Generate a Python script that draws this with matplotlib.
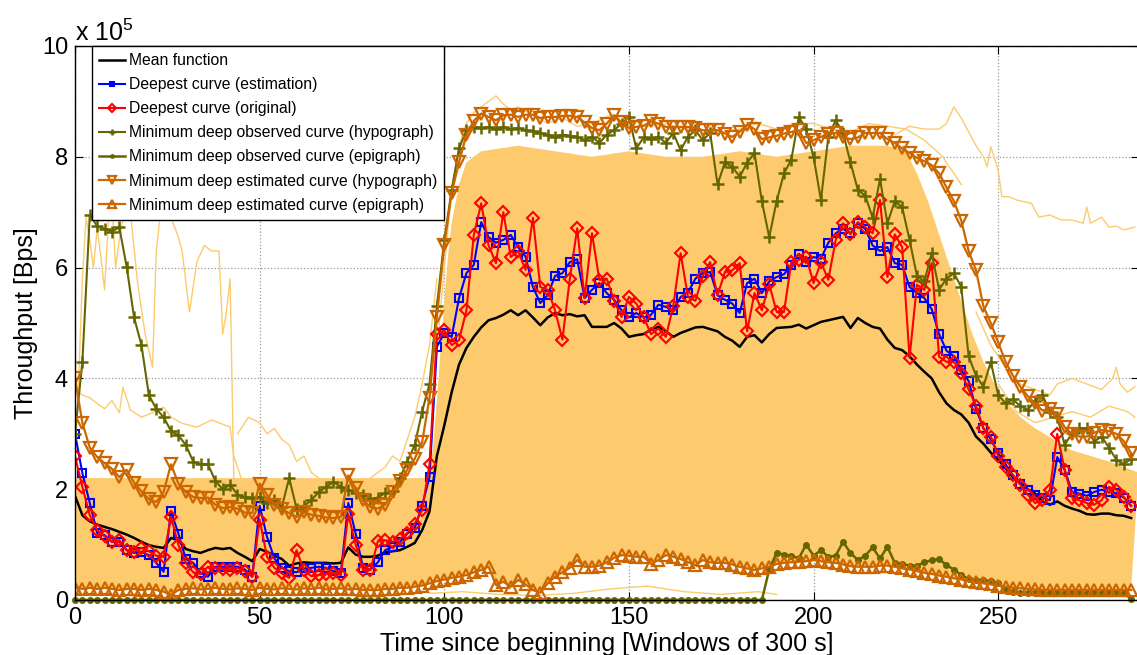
import numpy as np
import matplotlib
matplotlib.use("Agg")
import matplotlib.pyplot as plt

plt.rcParams['font.family'] = ['Liberation Sans', 'DejaVu Sans']
plt.rcParams['mathtext.fontset'] = 'custom'
plt.rcParams['mathtext.rm'] = 'Liberation Sans'

# time windows (every 2nd window), values in units of 1e5 Bps
windows = np.arange(0, 288, 2)

mean_curve = [
    1.88, 1.53, 1.42, 1.36, 1.32, 1.28, 1.23, 1.18, 1.12, 1.05,
    0.99, 0.96, 0.94, 1.12, 1.08, 0.92, 0.88, 0.85, 0.90, 0.94,
    0.92, 0.94, 0.85, 0.78, 0.70, 0.92, 0.87, 0.80, 0.74, 0.62,
    0.66, 0.68, 0.67, 0.67, 0.67, 0.66, 0.67, 0.95, 0.82, 0.78,
    0.78, 0.80, 0.86, 0.88, 0.90, 0.96, 1.03, 1.26, 1.60, 2.60,
    3.15, 3.75, 4.25, 4.55, 4.75, 4.92, 5.05, 5.09, 5.15, 5.23,
    5.14, 5.23, 5.10, 4.96, 5.10, 5.18, 5.14, 5.16, 5.12, 5.14,
    4.93, 4.93, 4.93, 5.00, 4.90, 4.75, 4.78, 4.80, 4.88, 4.93,
    4.85, 4.75, 4.82, 4.87, 4.92, 4.93, 4.89, 4.85, 4.75, 4.68,
    4.57, 4.75, 4.78, 4.65, 4.80, 4.91, 4.92, 4.93, 4.97, 4.90,
    4.96, 5.02, 5.05, 5.08, 5.11, 4.91, 5.09, 5.00, 4.93, 4.90,
    4.70, 4.55, 4.51, 4.40, 4.25, 4.12, 4.00, 3.75, 3.55, 3.43,
    3.35, 3.20, 2.95, 2.82, 2.66, 2.53, 2.38, 2.22, 2.11, 2.00,
    1.92, 1.78, 1.72, 1.78, 1.70, 1.65, 1.61, 1.55, 1.54, 1.56,
    1.56, 1.53, 1.52, 1.48]

deep_est = [
    3.00, 2.29, 1.75, 1.21, 1.17, 1.05, 1.05, 0.90, 0.85, 0.87,
    0.81, 0.67, 0.51, 1.60, 1.20, 0.74, 0.67, 0.49, 0.42, 0.60,
    0.60, 0.60, 0.60, 0.55, 0.42, 1.70, 1.14, 0.75, 0.58, 0.52,
    0.50, 0.57, 0.58, 0.60, 0.58, 0.52, 0.49, 1.75, 1.20, 0.58,
    0.55, 0.68, 0.90, 0.96, 1.05, 1.20, 1.30, 1.70, 2.22, 4.57,
    4.82, 4.75, 5.45, 5.90, 6.05, 6.82, 6.55, 6.45, 6.50, 6.59,
    6.37, 6.20, 5.65, 5.36, 5.50, 5.85, 5.90, 6.10, 6.15, 5.45,
    5.60, 5.72, 5.54, 5.42, 5.23, 5.10, 5.18, 5.10, 5.15, 5.33,
    5.29, 5.23, 5.47, 5.55, 5.80, 5.90, 5.92, 5.50, 5.42, 5.35,
    5.18, 5.72, 5.80, 5.54, 5.75, 5.83, 5.88, 6.05, 6.25, 6.10,
    6.19, 6.16, 6.45, 6.62, 6.70, 6.62, 6.80, 6.70, 6.40, 6.30,
    6.37, 6.08, 6.05, 5.65, 5.54, 5.45, 5.25, 4.80, 4.50, 4.40,
    4.15, 3.95, 3.45, 3.10, 2.90, 2.65, 2.45, 2.25, 2.10, 1.99,
    1.90, 1.85, 1.80, 2.58, 2.35, 1.95, 1.92, 1.88, 1.95, 1.99,
    1.95, 1.93, 1.85, 1.70]

deep_orig = [
    2.60, 2.04, 1.53, 1.26, 1.15, 1.05, 1.08, 0.90, 0.87, 0.94,
    0.88, 0.80, 0.78, 1.50, 0.99, 0.67, 0.50, 0.47, 0.60, 0.58,
    0.56, 0.54, 0.58, 0.52, 0.42, 1.45, 0.78, 0.58, 0.48, 0.40,
    0.90, 0.54, 0.43, 0.45, 0.47, 0.49, 0.45, 1.55, 1.00, 0.54,
    0.54, 1.06, 1.08, 1.05, 1.10, 1.21, 1.38, 1.62, 2.45, 4.80,
    4.87, 4.60, 4.69, 5.23, 6.59, 7.16, 6.40, 6.08, 7.00, 6.19,
    6.30, 5.96, 6.90, 5.65, 5.60, 5.23, 4.70, 5.80, 6.71, 5.45,
    6.62, 5.78, 5.80, 5.40, 5.11, 5.47, 5.35, 5.10, 4.80, 4.90,
    4.75, 5.30, 6.26, 5.47, 5.40, 5.85, 6.10, 5.50, 5.92, 5.95,
    6.08, 4.85, 5.54, 5.23, 5.70, 5.20, 5.20, 6.10, 6.14, 6.20,
    5.72, 6.10, 5.78, 6.50, 6.80, 6.60, 6.82, 6.73, 6.62, 7.22,
    5.83, 6.60, 6.37, 4.37, 5.69, 5.60, 6.08, 4.39, 4.30, 4.30,
    4.10, 3.80, 3.50, 3.10, 2.95, 2.60, 2.40, 2.25, 2.08, 1.90,
    1.75, 1.80, 1.99, 3.00, 2.35, 1.85, 1.80, 1.75, 1.72, 1.80,
    2.04, 1.99, 1.86, 1.70]

obs_hypo = [
    3.00, 4.30, 6.95, 6.75, 6.70, 6.65, 6.73, 6.01, 5.10, 4.60,
    3.70, 3.45, 3.30, 3.05, 2.97, 2.80, 2.50, 2.45, 2.45, 2.15,
    2.00, 2.08, 1.90, 1.86, 1.84, 1.86, 1.75, 1.80, 1.68, 2.20,
    1.65, 1.70, 1.80, 1.95, 2.04, 2.13, 2.04, 1.98, 1.94, 1.90,
    1.82, 1.85, 1.93, 1.96, 2.20, 2.50, 2.80, 3.40, 3.90, 5.30,
    6.50, 7.40, 8.15, 8.48, 8.54, 8.52, 8.54, 8.50, 8.54, 8.50,
    8.52, 8.48, 8.46, 8.43, 8.40, 8.36, 8.40, 8.38, 8.36, 8.30,
    8.36, 8.25, 8.40, 8.48, 8.60, 8.72, 8.15, 8.35, 8.33, 8.36,
    8.25, 8.43, 8.12, 8.36, 8.48, 8.30, 8.43, 7.50, 7.90, 7.82,
    7.64, 7.89, 8.07, 7.20, 6.55, 7.20, 7.70, 7.95, 8.72, 8.50,
    8.00, 7.22, 8.36, 8.66, 8.43, 7.90, 7.40, 7.30, 6.90, 7.60,
    6.80, 7.20, 7.09, 6.50, 5.85, 5.75, 6.26, 5.60, 5.80, 5.90,
    5.65, 4.40, 4.05, 3.85, 4.30, 3.70, 3.55, 3.62, 3.50, 3.43,
    3.60, 3.70, 3.40, 3.30, 2.80, 3.01, 3.10, 3.10, 2.86, 2.95,
    2.75, 2.53, 2.45, 2.55]

obs_epi = [0.0] * 94 + [
    0.55, 0.85, 0.82, 0.80, 0.75, 1.00, 0.80, 0.90, 0.78, 0.80,
    1.05, 0.85, 0.72, 0.80, 0.95, 0.75, 0.96, 0.67, 0.65, 0.62,
    0.62, 0.68, 0.72, 0.74, 0.63, 0.55, 0.45, 0.38, 0.36, 0.36,
    0.34, 0.30, 0.20, 0.15,
    0.12, 0.12, 0.12, 0.12, 0.12, 0.12, 0.12, 0.12, 0.12, 0.12,
    0.12, 0.12, 0.12, 0.12, 0.12, 0.02]

est_hypo = [
    4.00, 3.20, 2.75, 2.58, 2.47, 2.37, 2.22, 2.35, 2.12, 1.96,
    1.82, 1.77, 1.95, 2.45, 2.10, 1.95, 1.86, 1.84, 1.85, 1.72,
    1.66, 1.68, 1.65, 1.58, 1.57, 2.10, 1.90, 1.72, 1.64, 1.57,
    1.50, 1.58, 1.54, 1.52, 1.49, 1.48, 1.50, 2.25, 2.02, 1.80,
    1.68, 1.65, 1.72, 1.95, 2.15, 2.35, 2.55, 2.85, 3.65, 5.11,
    6.40, 7.35, 7.90, 8.40, 8.65, 8.78, 8.72, 8.66, 8.75, 8.76,
    8.72, 8.76, 8.76, 8.70, 8.72, 8.72, 8.74, 8.74, 8.72, 8.62,
    8.52, 8.48, 8.60, 8.75, 8.62, 8.52, 8.54, 8.56, 8.64, 8.60,
    8.54, 8.54, 8.54, 8.54, 8.52, 8.48, 8.48, 8.48, 8.42, 8.36,
    8.45, 8.58, 8.50, 8.32, 8.35, 8.38, 8.42, 8.45, 8.48, 8.25,
    8.30, 8.36, 8.42, 8.43, 8.35, 8.32, 8.35, 8.43, 8.43, 8.43,
    8.32, 8.25, 8.15, 8.07, 7.98, 7.92, 7.85, 7.70, 7.45, 7.20,
    6.85, 6.30, 5.95, 5.30, 5.00, 4.65, 4.30, 4.05, 3.85, 3.68,
    3.55, 3.42, 3.45, 3.35, 3.12, 3.00, 2.95, 2.95, 3.02, 3.07,
    3.05, 3.00, 2.87, 2.65]

est_epi = [
    0.22, 0.20, 0.22, 0.20, 0.22, 0.20, 0.18, 0.20, 0.20, 0.18,
    0.20, 0.18, 0.15, 0.09, 0.18, 0.20, 0.21, 0.19, 0.20, 0.22,
    0.20, 0.19, 0.21, 0.20, 0.18, 0.22, 0.20, 0.19, 0.21, 0.20,
    0.19, 0.21, 0.20, 0.22, 0.19, 0.20, 0.21, 0.19, 0.20, 0.18,
    0.18, 0.18, 0.20, 0.20, 0.22, 0.22, 0.24, 0.26, 0.30, 0.34,
    0.37, 0.40, 0.42, 0.45, 0.50, 0.54, 0.60, 0.27, 0.33, 0.24,
    0.36, 0.28, 0.18, 0.13, 0.30, 0.42, 0.50, 0.58, 0.72, 0.60,
    0.60, 0.62, 0.68, 0.76, 0.81, 0.80, 0.78, 0.78, 0.65, 0.72,
    0.81, 0.78, 0.74, 0.68, 0.63, 0.72, 0.68, 0.67, 0.67, 0.64,
    0.60, 0.57, 0.54, 0.57, 0.60, 0.65, 0.67, 0.68, 0.69, 0.70,
    0.72, 0.70, 0.68, 0.67, 0.64, 0.61, 0.60, 0.60, 0.60, 0.62,
    0.62, 0.60, 0.57, 0.55, 0.52, 0.49, 0.47, 0.44, 0.42, 0.39,
    0.37, 0.34, 0.32, 0.30, 0.28, 0.26, 0.24, 0.22, 0.21, 0.20,
    0.19, 0.18, 0.18, 0.18, 0.18, 0.18, 0.18, 0.18, 0.18, 0.18,
    0.18, 0.18, 0.18, 0.18]

# upper edge of the dense bundle of all observed curves
band_x = [0, 96, 97, 98, 99, 100, 101, 102, 104, 106, 110, 120, 130, 140, 150,
          160, 170, 180, 190, 200, 210, 220, 225, 228, 231, 234, 237, 240,
          243, 246, 249, 252, 256, 260, 265, 270, 275, 280, 288]
band_top = [2.2, 2.2, 2.8, 3.6, 4.5, 5.4, 6.2, 6.8, 7.5, 7.9, 8.1, 8.2, 8.1, 8.0, 8.1,
            8.0, 8.0, 8.1, 8.0, 8.1, 8.2, 8.2, 8.1, 7.7, 7.2, 6.6, 6.0, 5.4,
            4.8, 4.3, 3.9, 3.6, 3.3, 3.1, 2.9, 2.7, 2.6, 2.5, 2.3]

# a few single curves sticking out of the bundle
stray_a_x = [0, 1, 2, 3, 4, 5, 6, 7, 8, 9, 10, 11, 12, 13, 15, 17, 19, 21, 22, 23, 24,
             26, 28, 29, 31, 33, 35, 37, 39, 40, 41, 42, 43]
stray_a_y = [2.5, 4.0, 5.8, 6.9, 6.5, 6.0, 6.7, 6.2, 5.6, 6.8, 7.2, 6.0, 6.5, 6.9, 7.0,
             5.7, 4.8, 4.2, 6.3, 6.9, 6.9, 6.9, 6.55, 6.3, 5.2, 6.1, 6.4, 6.3, 6.3,
             4.8, 5.2, 5.8, 2.2]
stray_b_x = [0, 2, 4, 6, 8, 10, 12, 13, 15, 18, 21, 24, 26, 29, 33, 37, 42, 43, 45]
stray_b_y = [3.8, 3.7, 3.65, 3.55, 3.45, 3.6, 3.38, 3.84, 3.43, 3.30, 3.38, 3.48,
             3.30, 3.19, 3.12, 3.25, 3.12, 2.6, 2.2]
stray_c_x = [44, 47, 50, 52, 54, 56, 58, 60, 62, 64, 66]
stray_c_y = [3.0, 3.3, 3.2, 3.0, 3.1, 2.9, 2.8, 2.5, 2.6, 2.3, 2.2]
stray_d_x = [80, 84, 86, 88, 90, 92, 94, 96, 98]
stray_d_y = [2.2, 2.4, 2.6, 2.5, 2.9, 3.3, 3.9, 4.6, 5.8]
stray_e_x = [98, 100, 102, 104, 106, 108, 110, 112, 114, 116, 118, 120, 124, 128, 132,
             136, 140, 145, 150, 155, 160, 165, 170, 175, 180, 185, 190, 195, 200,
             205, 210, 215, 220, 225, 230, 235, 240]
stray_e_y = [4.5, 6.0, 7.4, 8.2, 8.6, 8.8, 8.9, 9.0, 9.1, 8.95, 8.85, 8.9, 8.75, 8.6,
             8.7, 8.55, 8.6, 8.75, 8.7, 8.55, 8.6, 8.5, 8.6, 8.45, 8.5, 8.6, 8.5, 8.6,
             8.6, 8.5, 8.45, 8.6, 8.55, 8.5, 8.3, 8.0, 7.5]
stray_f_x = [222, 226, 230, 234, 236, 238, 240, 242, 244, 246, 247, 248, 250, 251, 253,
             255, 259, 261, 264, 267, 270, 273, 274, 275, 278, 280, 282, 284, 287]
stray_f_y = [8.4, 8.55, 8.5, 8.5, 8.6, 8.9, 8.7, 8.45, 8.2, 8.0, 7.82, 8.18, 7.76, 7.28,
             7.28, 7.22, 7.16, 6.91, 6.95, 6.86, 6.86, 6.80, 7.09, 6.80, 6.91, 6.73,
             6.75, 6.68, 6.73]
stray_g_x = [244, 248, 252, 256, 260, 264, 266, 270, 274, 278, 281, 282, 283, 285, 287]
stray_g_y = [5.2, 4.6, 4.2, 3.9, 3.8, 3.7, 3.9, 4.0, 3.9, 3.8, 4.0, 4.2, 3.9, 3.75, 3.85]
stray_h_x = [250, 255, 260, 265, 270, 275, 280, 285, 287]
stray_h_y = [3.9, 3.4, 3.2, 3.3, 3.4, 3.3, 3.5, 3.4, 3.3]
stray_i_x = [96, 105, 115, 125, 135, 145, 155, 165, 175, 185, 190]
stray_i_y = [0.12, 0.15, 0.10, 0.08, 0.12, 0.20, 0.25, 0.15, 0.10, 0.15, 0.10]

strays = [(stray_a_x, stray_a_y), (stray_b_x, stray_b_y), (stray_c_x, stray_c_y),
          (stray_d_x, stray_d_y), (stray_e_x, stray_e_y), (stray_f_x, stray_f_y),
          (stray_g_x, stray_g_y), (stray_h_x, stray_h_y), (stray_i_x, stray_i_y)]

YEL = '#FDCB6E'
OLIVE = '#666600'
ORANGE = '#CC6600'

fig = plt.figure(figsize=(11.37, 6.55), dpi=100)
ax = fig.add_axes([75 / 1137, 55 / 655, 1063.5 / 1137, 554 / 655])

# bundle of observed curves
ax.fill(list(band_x) + list(windows[::-1]), list(band_top) + list(est_epi[::-1]),
        color=YEL, lw=0, zorder=1)
for sx, sy in strays:
    ax.plot(sx, sy, color=YEL, lw=1.0, zorder=1.2)

ax.plot(windows, mean_curve, color='k', lw=1.8, label='Mean function')
ax.plot(windows, deep_est, color='b', lw=1.5, marker='s', ms=6, mfc='none', mew=1.5,
        label='Deepest curve (estimation)')
ax.plot(windows, deep_orig, color='r', lw=1.5, marker='D', ms=6.5, mfc='none', mew=1.5,
        label='Deepest curve (original)')
ax.plot(windows, obs_hypo, color=OLIVE, lw=1.5, marker='+', ms=8, mew=1.8,
        label='Minimum deep observed curve (hypograph)')
ax.plot(windows, obs_epi, color=OLIVE, lw=1.8, marker='.', ms=8, clip_on=False,
        label='Minimum deep observed curve (epigraph)')
ax.plot(windows, est_hypo, color=ORANGE, lw=1.6, marker='v', ms=8.5, mfc='none', mew=1.6,
        label='Minimum deep estimated curve (hypograph)')
ax.plot(windows, est_epi, color=ORANGE, lw=1.6, marker='^', ms=8.5, mfc='none', mew=1.6,
        label='Minimum deep estimated curve (epigraph)')

ax.set_xlim(0, 288)
ax.set_ylim(0, 10)
ax.set_xticks([0, 50, 100, 150, 200, 250])
ax.set_yticks([0, 2, 4, 6, 8, 10])
ax.tick_params(direction='in', length=6, width=0.8, labelsize=17, pad=5,
               top=True, right=True)
ax.grid(True, linestyle=':', color='0.6', lw=0.9)
ax.set_axisbelow(True)
for sp in ax.spines.values():
    sp.set_linewidth(1.0)

ax.text(0.0, 1.0, r'x 10$^5$', transform=ax.transAxes, fontsize=18,
        ha='left', va='bottom')
ax.set_xlabel('Time since beginning [Windows of 300 s]', fontsize=18)
ax.xaxis.set_label_coords(0.5, -0.058)
ax.set_ylabel('Throughput [Bps]', fontsize=18)
ax.yaxis.set_label_coords(-0.035, 0.5)

leg = ax.legend(loc='upper left', bbox_to_anchor=((92 - 75) / 1063.5, 1.0),
                fontsize=11.3, frameon=True, fancybox=False, edgecolor='k',
                framealpha=1, borderaxespad=0, handlelength=1.65,
                handletextpad=0.25, labelspacing=0.58, borderpad=0.45,
                markerscale=0.6)
leg.get_frame().set_linewidth(1.0)
leg.set_zorder(10)

fig.savefig('out.png', dpi=100)
